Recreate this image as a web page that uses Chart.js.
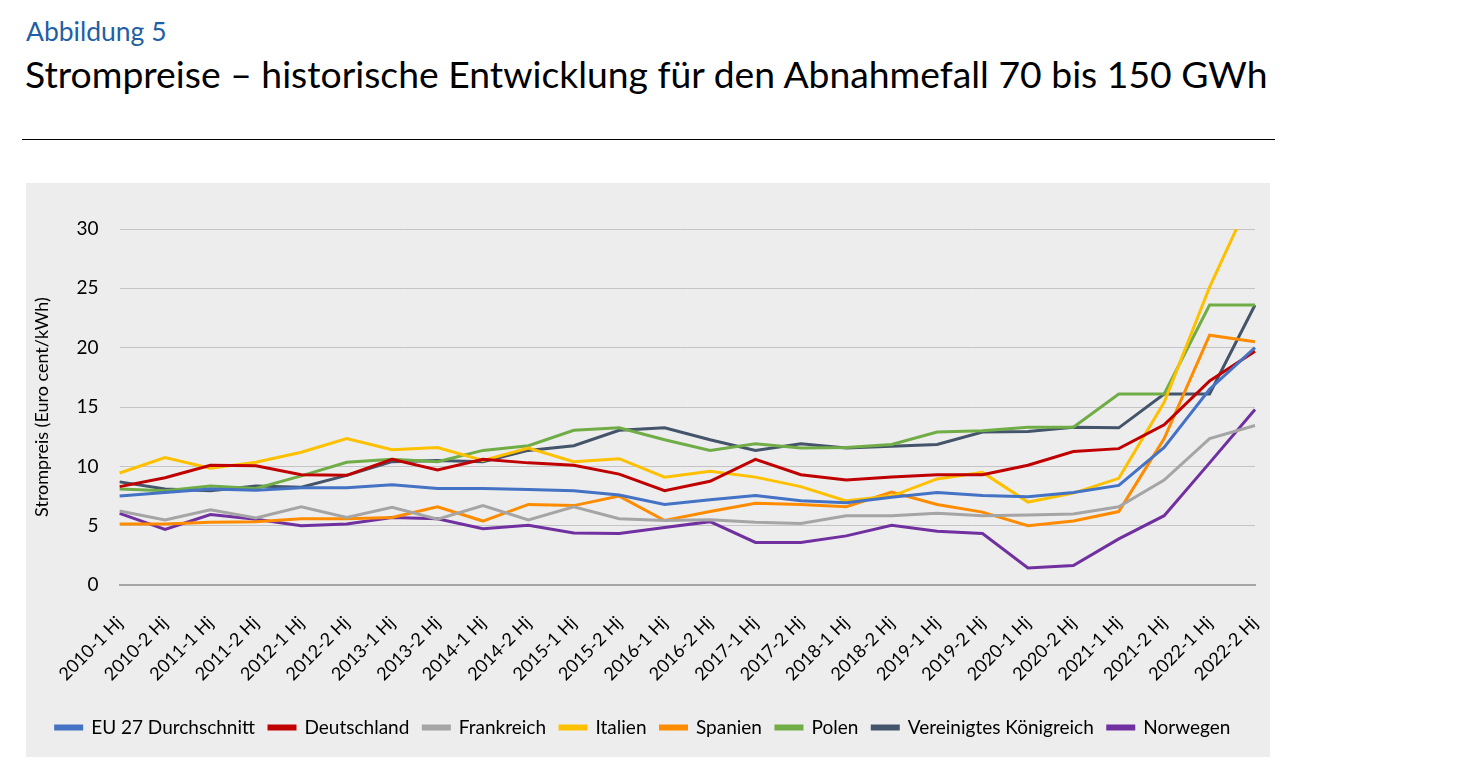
<!DOCTYPE html>
<html>
<head>
<meta charset="utf-8">
<script src="https://cdn.jsdelivr.net/npm/chart.js@4"></script>
<style>
  body { margin: 0; background: #fff; font-family: Lato, "Open Sans", sans-serif; }
  #kicker { position: absolute; left: 26px; top: 15px; font-size: 26.5px; color: #1F5FA6; }
  #title { position: absolute; left: 25px; top: 51px; font-size: 37.3px; color: #000; white-space: nowrap; }
  #rule { position: absolute; left: 22px; top: 139px; width: 1253px; height: 0; border-top: 1.5px solid #000; }
  #panel { position: absolute; left: 26px; top: 183px; width: 1244px; height: 574px; background: #EDEDED; }
</style>
</head>
<body>
<div id="kicker">Abbildung 5</div>
<div id="title">Strompreise – historische Entwicklung für den Abnahmefall 70 bis 150 GWh</div>
<div id="rule"></div>
<div id="panel"><canvas id="chart" width="1244" height="574"></canvas></div>
<script>
// Halbjahre 2010-1 bis 2022-2
const labels = [
  '2010-1 Hj', '2010-2 Hj', '2011-1 Hj', '2011-2 Hj', '2012-1 Hj', '2012-2 Hj',
  '2013-1 Hj', '2013-2 Hj', '2014-1 Hj', '2014-2 Hj', '2015-1 Hj', '2015-2 Hj',
  '2016-1 Hj', '2016-2 Hj', '2017-1 Hj', '2017-2 Hj', '2018-1 Hj', '2018-2 Hj',
  '2019-1 Hj', '2019-2 Hj', '2020-1 Hj', '2020-2 Hj', '2021-1 Hj', '2021-2 Hj',
  '2022-1 Hj', '2022-2 Hj'
];

// Euro cent/kWh
const eu27 = [7.5, 7.8, 8.1, 8.0, 8.2, 8.2, 8.45, 8.15, 8.15, 8.05, 7.95, 7.6, 6.8, 7.2, 7.55, 7.1,
  6.95, 7.4, 7.8, 7.55, 7.45, 7.8, 8.4, 11.6, 16.5, 20.0];
const deutschland = [8.3, 9.05, 10.1, 10.05, 9.3, 9.25, 10.6, 9.7, 10.6, 10.3, 10.1, 9.35, 7.95, 8.75, 10.6, 9.3,
  8.85, 9.1, 9.3, 9.3, 10.1, 11.25, 11.5, 13.5, 17.2, 19.7];
const frankreich = [6.25, 5.5, 6.35, 5.65, 6.6, 5.7, 6.55, 5.55, 6.7, 5.5, 6.6, 5.6, 5.45, 5.5, 5.3, 5.2,
  5.85, 5.85, 6.05, 5.85, 5.9, 6.0, 6.6, 8.85, 12.35, 13.45];
const italien = [9.45, 10.75, 9.85, 10.35, 11.2, 12.35, 11.4, 11.6, 10.5, 11.55, 10.4, 10.65, 9.1, 9.6, 9.1, 8.3,
  7.1, 7.5, 8.95, 9.5, 7.0, 7.75, 9.0, 15.4, 25.1, 33.4];
const spanien = [5.15, 5.15, 5.3, 5.35, 5.6, 5.6, 5.7, 6.6, 5.4, 6.8, 6.7, 7.5, 5.45, 6.2, 6.9, 6.8,
  6.6, 7.85, 6.8, 6.15, 5.0, 5.4, 6.2, 12.35, 21.05, 20.5];
const polen = [8.1, 7.95, 8.35, 8.15, 9.2, 10.35, 10.6, 10.4, 11.35, 11.75, 13.05, 13.25, 12.25, 11.35, 11.9, 11.55,
  11.6, 11.85, 12.9, 13.0, 13.3, 13.3, 16.1, 16.1, 23.6, 23.6];
const vereinigtesKoenigreich = [8.7, 8.1, 7.95, 8.35, 8.25, 9.25, 10.4, 10.5, 10.4, 11.35, 11.75, 13.05, 13.25, 12.25, 11.35, 11.9,
  11.55, 11.7, 11.85, 12.9, 12.95, 13.3, 13.25, 16.1, 16.1, 23.6];
const norwegen = [6.05, 4.7, 5.95, 5.55, 5.0, 5.15, 5.7, 5.6, 4.75, 5.05, 4.4, 4.35, 4.85, 5.35, 3.6, 3.6,
  4.15, 5.05, 4.55, 4.35, 1.45, 1.65, 3.9, 5.85, 10.3, 14.8];

const yTicks = [0, 5, 10, 15, 20, 25, 30];

function line(label, data, color) {
  return {
    label: label,
    data: data,
    borderColor: color,
    backgroundColor: color,
    borderWidth: 3,
    pointRadius: 0,
    tension: 0
  };
}

const ctx = document.getElementById('chart');
new Chart(ctx, {
  type: 'line',
  data: {
    labels: labels,
    datasets: [
      line('EU 27 Durchschnitt', eu27, '#4472C4'),
      line('Deutschland', deutschland, '#C00000'),
      line('Frankreich', frankreich, '#A5A5A5'),
      line('Italien', italien, '#FFC000'),
      line('Spanien', spanien, '#FF8C00'),
      line('Polen', polen, '#70AD47'),
      line('Vereinigtes Königreich', vereinigtesKoenigreich, '#44546A'),
      line('Norwegen', norwegen, '#7030A0')
    ]
  },
  options: {
    responsive: false,
    animation: false,
    layout: { padding: { left: 5, right: 15, top: 46, bottom: 10 } },
    plugins: {
      legend: {
        position: 'bottom',
        labels: {
          boxWidth: 26,
          boxHeight: 3,
          padding: 14,
          color: '#000',
          font: { family: 'Lato', size: 19 }
        }
      },
      tooltip: { enabled: false }
    },
    scales: {
      x: {
        grid: { display: false },
        border: { color: '#A6A6A6', width: 2 },
        // the tick padding would otherwise eat into the right edge of the plot
        afterFit: function(scale) { scale.paddingRight = 0; },
        ticks: {
          color: '#000',
          maxRotation: 45,
          minRotation: 45,
          autoSkip: false,
          padding: 19,
          font: { family: 'Lato', size: 18 }
        }
      },
      y: {
        min: 0,
        max: 30,
        afterBuildTicks: function(axis) {
          axis.ticks = yTicks.map(v => ({ value: v }));
        },
        grid: { color: '#C4C4C4', lineWidth: 1, drawTicks: false },
        border: { display: false },
        title: {
          display: true,
          text: 'Strompreis (Euro cent/kWh)',
          color: '#000',
          padding: { top: 0, bottom: 3 },
          font: { family: 'Lato', size: 18 }
        },
        ticks: {
          color: '#000',
          padding: 21,
          font: { family: 'Lato', size: 19 }
        }
      }
    }
  }
});
</script>
</body>
</html>
